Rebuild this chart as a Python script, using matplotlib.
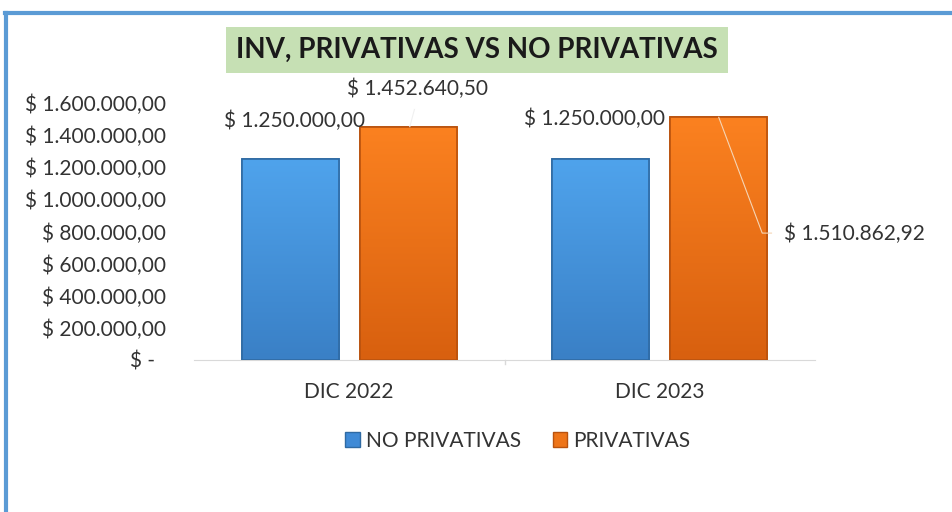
import matplotlib.pyplot as plt
import numpy as np
from matplotlib.lines import Line2D
from matplotlib.patches import Rectangle

# Chart data
categories = ['DIC 2022', 'DIC 2023']
series_names = ['NO PRIVATIVAS', 'PRIVATIVAS']
no_privativas = [1250000.00, 1250000.00]
privativas = [1452640.50, 1510862.92]
y_ticks = [0, 200000, 400000, 600000, 800000, 1000000, 1200000, 1400000, 1600000]


def money(v):
    if v == 0:
        return '$ -  '
    s = f'{v:,.2f}'.replace(',', 'X').replace('.', ',').replace('X', '.')
    return '$ ' + s


plt.rcParams['font.family'] = ['Lato', 'DejaVu Sans']

fig = plt.figure(figsize=(9.52, 5.12), dpi=100)
ax = fig.add_axes([194 / 952, 1 - 360 / 512, 621 / 952, 257 / 512])

x = np.arange(len(categories))
width = 0.313
offset = 0.19

blue_grad = ['#4fa3ec', '#3a80c6']
orange_grad = ['#fb8120', '#d8600f']


def gradient_bars(bars, cols, edge):
    cmap = plt.matplotlib.colors.LinearSegmentedColormap.from_list('g', cols)
    for b in bars:
        x0, y0 = b.get_x(), b.get_y()
        w, h = b.get_width(), b.get_height()
        grad = np.linspace(0, 1, 100).reshape(-1, 1)
        im = ax.imshow(grad, cmap=cmap, aspect='auto',
                       extent=(x0, x0 + w, y0, y0 + h), origin='upper', zorder=2)
        im.set_clip_path(b)
        b.set_edgecolor(edge)
        b.set_linewidth(1.2)


b1 = ax.bar(x - offset, no_privativas, width, color='#3f8ad6', zorder=2)
b2 = ax.bar(x + offset, privativas, width, color='#ee7418', zorder=2)
gradient_bars(b1, blue_grad, '#2f6aa3')
gradient_bars(b2, orange_grad, '#b9520e')
for b in list(b1) + list(b2):
    ax.add_patch(Rectangle((b.get_x(), b.get_y()), b.get_width(), b.get_height(),
                           fill=False, edgecolor=b.get_edgecolor(), lw=1.2, zorder=3))

ax.set_xlim(-0.5, 1.5)
ax.set_ylim(0, 1600000)
ax.set_yticks(y_ticks)
ax.set_yticklabels([money(v) for v in y_ticks], fontsize=15, color='#333333')
ax.set_xticks(x)
ax.set_xticklabels(categories, fontsize=15, color='#333333')
ax.tick_params(axis='y', length=0, pad=20)
ax.tick_params(axis='x', length=0, pad=16)
for side in ['top', 'right', 'left']:
    ax.spines[side].set_visible(False)
ax.spines['bottom'].set_color('#d9d9d9')
# tick mark between categories
ax.plot([0.5, 0.5], [0, -25000], color='#d9d9d9', lw=1, clip_on=False)

# Data labels
lab_kw = dict(fontsize=15, color='#333333', va='center')
ax.annotate(money(no_privativas[0]), (x[0] - offset, no_privativas[0]),
            xytext=(-0.175, 1490000), ha='center', **lab_kw)
ax.annotate(money(no_privativas[1]), (x[1] - offset, no_privativas[1]),
            xytext=(0.79, 1502000), ha='center', **lab_kw)
ax.annotate(money(privativas[0]), (x[0] + offset, privativas[0]),
            xytext=(0.22, 1685000), ha='center', **lab_kw)
ax.plot([0.195, 0.21], [privativas[0], 1560000], color='#f0f0f0', lw=0.8, zorder=4)
ax.annotate(money(privativas[1]), (x[1] + offset, privativas[1]),
            xytext=(1.40, 785000), ha='left', annotation_clip=False, **lab_kw)
ax.plot([1.19, 1.33, 1.36], [privativas[1], 790000, 790000],
        color='#f5d5b5', lw=0.8, zorder=4, clip_on=False)

# Title with green box
fig.text(477 / 952, 1 - 50 / 512, 'INV, PRIVATIVAS VS NO PRIVATIVAS',
         fontsize=20, fontweight='bold', ha='center', va='center', color='#1a1a1a',
         bbox=dict(boxstyle='square,pad=0.35', fc='#c6e0b4', ec='none'))

# Legend
handles = [Rectangle((0, 0), 1, 1, fc='#3f8ad6', ec='#2f6aa3'),
           Rectangle((0, 0), 1, 1, fc='#ee7418', ec='#b9520e')]
fig.legend(handles, series_names, loc='center', bbox_to_anchor=(518 / 952, 1 - 441 / 512),
           ncol=2, frameon=False, fontsize=15, handlelength=0.7, handleheight=0.7,
           handletextpad=0.3, columnspacing=1.5, labelcolor='#333333')

# Outer blue frame (top and left)
fig.add_artist(Line2D([5 / 952, 1], [1 - 13 / 512, 1 - 13 / 512], color='#5b9bd5', lw=3,
                      transform=fig.transFigure))
fig.add_artist(Line2D([6 / 952, 6 / 952], [0, 1 - 13 / 512], color='#5b9bd5', lw=3,
                      transform=fig.transFigure))

fig.savefig('out.png', dpi=100)
